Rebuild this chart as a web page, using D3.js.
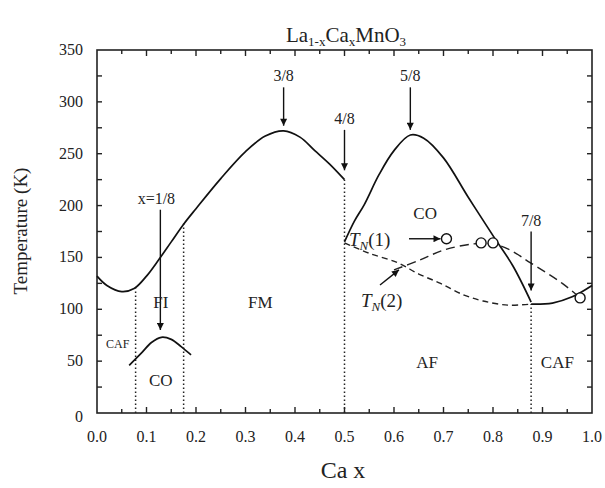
<!DOCTYPE html>
<html>
<head>
<meta charset="utf-8">
<script src="https://cdn.jsdelivr.net/npm/d3@7/dist/d3.min.js"></script>
<style>
  html, body { margin: 0; padding: 0; background: #fff; }
  svg { display: block; font-family: "Liberation Serif", "DejaVu Serif", serif; }
</style>
</head>
<body>
<svg id="chart" width="605" height="488"></svg>
<script>
// Phase boundaries of La(1-x)Ca(x)MnO3: [Ca fraction x, temperature K]
const fmBoundary = [[0.0,132],[0.02,123],[0.05,117],[0.075,120],[0.1,132],[0.125,148],[0.15,165],[0.175,182],[0.2,197],[0.25,226],[0.3,252],[0.34,267],[0.377,272],[0.41,266],[0.44,253],[0.47,240],[0.5,225]];
const coLowBoundary = [[0.065,46],[0.09,58],[0.11,68],[0.13,73],[0.15,71],[0.17,64],[0.19,56]];
const coHighBoundary = [[0.5,165],[0.52,185],[0.54,201],[0.57,230],[0.6,253],[0.633,268],[0.66,265],[0.7,246],[0.75,208],[0.8,171],[0.84,142],[0.877,107]];
const cafBoundary = [[0.877,105],[0.92,106],[0.96,112],[1.0,123]];
const tn1Line = [[0.5,164],[0.55,154],[0.607,145],[0.65,134],[0.694,125],[0.74,114],[0.78,108],[0.83,104],[0.877,105]];
const tn2Line = [[0.6,138],[0.65,147],[0.7,157],[0.76,163],[0.8,163],[0.835,157],[0.875,145],[0.94,125],[0.976,111]];
const tnPoints = [[0.706,168],[0.776,164],[0.80,164],[0.976,111]];
const dottedLines = [[0.078,120],[0.175,183],[0.5,225],[0.877,105]];
// Arrows at commensurate fillings: [x, from T, to T, label]
const fillingArrows = [[0.128,196,80,"x=1/8"],[0.377,314,277,"3/8"],[0.5,273,234,"4/8"],[0.633,314,273,"5/8"],[0.877,175,118,"7/8"]];
const phaseLabels = [[0.129,107,"FI",17],[0.33,107,"FM",17],[0.042,67,"CAF",12],[0.129,32,"CO",17],[0.663,193,"CO",17],[0.667,49,"AF",17],[0.93,49,"CAF",17]];
const xTicks = [0,0.1,0.2,0.3,0.4,0.5,0.6,0.7,0.8,0.9,1.0];
const yTicks = [0,50,100,150,200,250,300,350];

const svg = d3.select("#chart");
const m = {left: 97, right: 592, top: 50, bottom: 413};
const x = d3.scaleLinear().domain([0, 1]).range([m.left, m.right]);
const y = d3.scaleLinear().domain([0, 350]).range([m.bottom, m.top]);

svg.append("defs").append("marker")
  .attr("id", "head").attr("viewBox", "0 0 10 10")
  .attr("refX", 10).attr("refY", 5)
  .attr("markerWidth", 9).attr("markerHeight", 7)
  .attr("markerUnits", "userSpaceOnUse")
  .attr("orient", "auto")
  .append("path").attr("d", "M0,0 L10,5 L0,10 Z").attr("fill", "#111");

// Frame
svg.append("rect")
  .attr("x", m.left).attr("y", m.top)
  .attr("width", m.right - m.left).attr("height", m.bottom - m.top)
  .attr("fill", "none").attr("stroke", "#222").attr("stroke-width", 1.6);

// Inward ticks on all four sides
const xMinor = d3.range(0, 1.0001, 0.05);
xMinor.forEach((v, i) => {
  const len = i % 2 === 0 ? 6 : 4;
  if (i === 0 || i === xMinor.length - 1) return;
  svg.append("line").attr("x1", x(v)).attr("x2", x(v)).attr("y1", m.bottom).attr("y2", m.bottom - len)
    .attr("stroke", "#222").attr("stroke-width", 1.4);
  svg.append("line").attr("x1", x(v)).attr("x2", x(v)).attr("y1", m.top).attr("y2", m.top + len)
    .attr("stroke", "#222").attr("stroke-width", 1.4);
});
const yMinor = d3.range(25, 350, 25);
yMinor.forEach(v => {
  svg.append("line").attr("x1", m.left).attr("x2", m.left + 5).attr("y1", y(v)).attr("y2", y(v))
    .attr("stroke", "#222").attr("stroke-width", 1.4);
  svg.append("line").attr("x1", m.right).attr("x2", m.right - 5).attr("y1", y(v)).attr("y2", y(v))
    .attr("stroke", "#222").attr("stroke-width", 1.4);
});

// Tick labels
svg.append("g").selectAll("text").data(xTicks).join("text")
  .attr("x", d => x(d)).attr("y", 442)
  .attr("text-anchor", "middle").attr("font-size", 16).attr("fill", "#222")
  .text(d => d.toFixed(1));
svg.append("g").selectAll("text").data(yTicks).join("text")
  .attr("x", 83).attr("y", d => y(d) + 5 + (d === 0 ? 4 : 0))
  .attr("text-anchor", "end").attr("font-size", 16).attr("fill", "#222")
  .text(d => d);

// Axis titles and heading
svg.append("text").attr("x", 343).attr("y", 478).attr("text-anchor", "middle")
  .attr("font-size", 24).attr("fill", "#222").text("Ca x");
svg.append("text").attr("transform", "translate(27,231) rotate(-90)").attr("text-anchor", "middle")
  .attr("font-size", 19).attr("fill", "#222").text("Temperature (K)");
const title = svg.append("text").attr("x", 346).attr("y", 42).attr("text-anchor", "middle")
  .attr("font-size", 21).attr("fill", "#222");
title.append("tspan").text("La");
title.append("tspan").attr("font-size", 13).attr("dy", 4).text("1-x");
title.append("tspan").attr("dy", -4).text("Ca");
title.append("tspan").attr("font-size", 13).attr("dy", 4).text("x");
title.append("tspan").attr("dy", -4).text("MnO");
title.append("tspan").attr("font-size", 13).attr("dy", 4).text("3");

// Dotted phase separators
svg.append("g").selectAll("line").data(dottedLines).join("line")
  .attr("x1", d => x(d[0])).attr("x2", d => x(d[0]))
  .attr("y1", y(0)).attr("y2", d => y(d[1]))
  .attr("stroke", "#222").attr("stroke-width", 1.5).attr("stroke-dasharray", "1.5,2.5");

const line = d3.line().x(d => x(d[0])).y(d => y(d[1])).curve(d3.curveCatmullRom.alpha(0.5));
const solid = [fmBoundary, coLowBoundary, coHighBoundary, cafBoundary];
svg.append("g").selectAll("path").data(solid).join("path")
  .attr("d", line).attr("fill", "none").attr("stroke", "#111").attr("stroke-width", 1.7);

svg.append("path").attr("d", line(tn1Line)).attr("fill", "none")
  .attr("stroke", "#222").attr("stroke-width", 1.4).attr("stroke-dasharray", "6,4");
svg.append("path").attr("d", line(tn2Line)).attr("fill", "none")
  .attr("stroke", "#222").attr("stroke-width", 1.4).attr("stroke-dasharray", "9,5");

svg.append("g").selectAll("circle").data(tnPoints).join("circle")
  .attr("cx", d => x(d[0])).attr("cy", d => y(d[1])).attr("r", 5)
  .attr("fill", "#fff").attr("stroke", "#111").attr("stroke-width", 1.4);

// Filling arrows with labels
fillingArrows.forEach(([xv, t0, t1, lab]) => {
  svg.append("line").attr("x1", x(xv)).attr("x2", x(xv)).attr("y1", y(t0)).attr("y2", y(t1))
    .attr("stroke", "#111").attr("stroke-width", 1.4).attr("marker-end", "url(#head)");
  svg.append("text").attr("x", x(xv) - (lab === "x=1/8" ? 4 : 0)).attr("y", y(t0) - 6)
    .attr("text-anchor", "middle").attr("font-size", 16).attr("fill", "#222").text(lab);
});

// Phase region labels
svg.append("g").selectAll("text").data(phaseLabels).join("text")
  .attr("x", d => x(d[0])).attr("y", d => y(d[1]) + d[3] * 0.35)
  .attr("text-anchor", "middle").attr("font-size", d => d[3]).attr("fill", "#222")
  .text(d => d[2]);

// Néel temperature annotations
function tnLabel(px, py, idx) {
  const t = svg.append("text").attr("x", px).attr("y", py).attr("font-size", 19)
    .attr("fill", "#222");
  t.append("tspan").attr("font-style", "italic").text("T");
  t.append("tspan").attr("font-style", "italic").attr("font-size", 13).attr("dy", 4).text("N");
  t.append("tspan").attr("dy", -4).text("(" + idx + ")");
}
tnLabel(349, 246, 1);
tnLabel(361, 307, 2);
svg.append("line").attr("x1", 409).attr("x2", x(0.706) - 6).attr("y1", y(168)).attr("y2", y(168))
  .attr("stroke", "#111").attr("stroke-width", 1.4).attr("marker-end", "url(#head)");
svg.append("line").attr("x1", 380).attr("x2", x(0.61)).attr("y1", 285).attr("y2", y(138))
  .attr("stroke", "#111").attr("stroke-width", 1.4).attr("marker-end", "url(#head)");
</script>
</body>
</html>
